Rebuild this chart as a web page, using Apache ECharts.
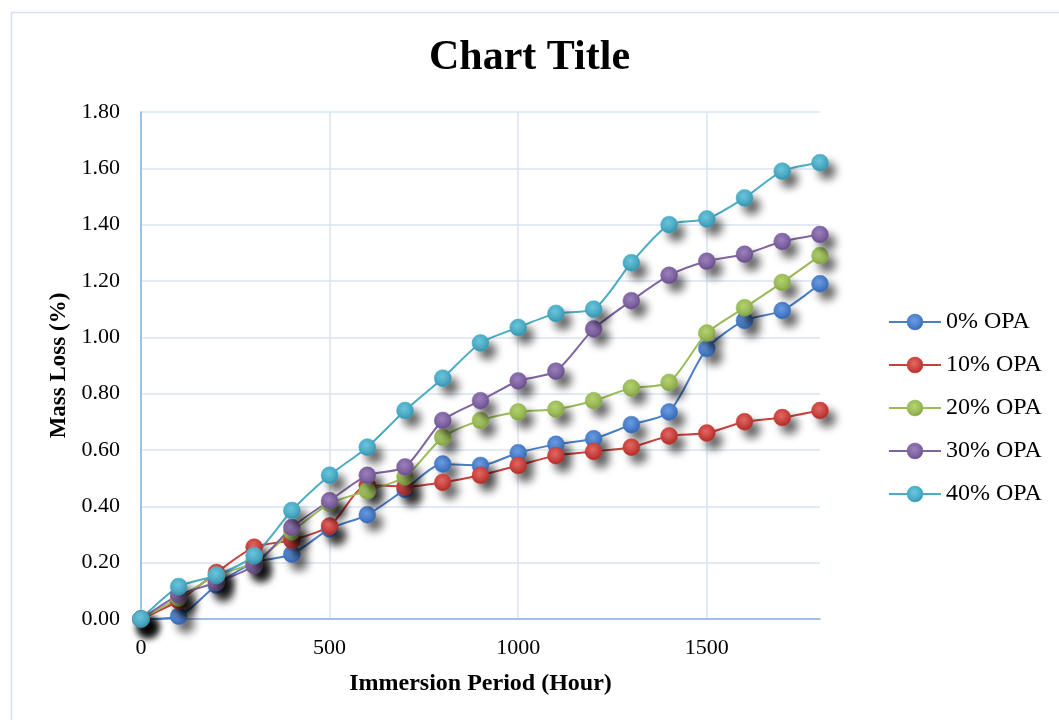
<!DOCTYPE html>
<html>
<head>
<meta charset="utf-8">
<script src="https://cdn.jsdelivr.net/npm/echarts@6/dist/echarts.min.js"></script>
<style>
  html, body { margin: 0; padding: 0; background: #ffffff; }
  #chart { width: 1059px; height: 720px; }
</style>
</head>
<body>
<div id="chart"></div>
<script>
// Immersion period in hours
const hours = [0, 100, 200, 300, 400, 500, 600, 700, 800, 900, 1000, 1100, 1200, 1300, 1400, 1500, 1600, 1700, 1800];

// Mass loss (%) for each OPA content
const opa0  = [0, 0.01, 0.12, 0.20, 0.23, 0.32, 0.37, 0.46, 0.55, 0.545, 0.59, 0.62, 0.64, 0.69, 0.735, 0.96, 1.06, 1.095, 1.19];
const opa10 = [0, 0.065, 0.165, 0.255, 0.28, 0.33, 0.475, 0.47, 0.485, 0.51, 0.545, 0.58, 0.595, 0.61, 0.65, 0.66, 0.70, 0.715, 0.74];
const opa20 = [0, 0.075, 0.155, 0.20, 0.31, 0.41, 0.455, 0.505, 0.645, 0.705, 0.735, 0.745, 0.775, 0.82, 0.84, 1.015, 1.105, 1.195, 1.29];
const opa30 = [0, 0.085, 0.13, 0.19, 0.325, 0.42, 0.51, 0.54, 0.705, 0.775, 0.845, 0.88, 1.03, 1.13, 1.22, 1.27, 1.295, 1.34, 1.365];
const opa40 = [0, 0.115, 0.155, 0.225, 0.385, 0.51, 0.61, 0.74, 0.855, 0.98, 1.035, 1.085, 1.10, 1.265, 1.40, 1.42, 1.495, 1.59, 1.62];

const seriesNames = ['0% OPA', '10% OPA', '20% OPA', '30% OPA', '40% OPA'];
const seriesData = [opa0, opa10, opa20, opa30, opa40];

// line colour, marker highlight, marker edge
const palette = [
  ['#4a7ec9', '#6a9ee6', '#2f63b0'],
  ['#c9403c', '#e46a66', '#a92b28'],
  ['#9bbb59', '#b7d46f', '#7d9d3c'],
  ['#8064a2', '#9d82c0', '#634887'],
  ['#4bacc6', '#6cc7de', '#2f8eaa']
];

const serif = '"Liberation Serif", "Times New Roman", serif';

function beadFill(c) {
  return {
    type: 'radial', x: 0.45, y: 0.4, r: 0.62,
    colorStops: [
      { offset: 0, color: c[1] },
      { offset: 0.65, color: c[0] },
      { offset: 1, color: c[2] }
    ]
  };
}

const series = seriesNames.map((name, i) => ({
  name: name,
  type: 'line',
  data: hours.map((h, k) => [h, seriesData[i][k]]),
  smooth: 0.25,
  symbol: 'circle',
  symbolSize: 17,
  lineStyle: { color: palette[i][0], width: 2 },
  itemStyle: {
    color: beadFill(palette[i]),
    borderColor: palette[i][0],
    borderWidth: 0.5,
    shadowColor: 'rgba(0,0,0,0.6)',
    shadowBlur: 8,
    shadowOffsetX: 7,
    shadowOffsetY: 8
  },
  emphasis: { disabled: true }
}));

const chart = echarts.init(document.getElementById('chart'), null, { renderer: 'canvas' });

chart.setOption({
  backgroundColor: '#ffffff',
  animation: false,
  graphic: [{
    type: 'rect',
    left: 9, top: 10,
    shape: { width: 1100, height: 760 },
    style: { fill: 'none', stroke: '#d5e0f0', lineWidth: 1.5 },
    silent: true, z: -1
  }],
  title: {
    text: 'Chart Title',
    left: 'center',
    top: 32,
    textStyle: { fontFamily: serif, fontSize: 42, fontWeight: 'bold', color: '#000' }
  },
  grid: { left: 141, right: 239, top: 112, bottom: 101, containLabel: false },
  legend: {
    orient: 'vertical',
    left: 883,
    top: 305,
    itemWidth: 52,
    itemHeight: 20,
    itemGap: 19,
    data: seriesNames.map((n, i) => ({
      name: n,
      itemStyle: { color: beadFill(palette[i]), borderColor: palette[i][0], borderWidth: 0.5, shadowBlur: 0, shadowOffsetX: 0, shadowOffsetY: 0 }
    })),
    textStyle: { fontFamily: serif, fontSize: 24, color: '#000', lineHeight: 23 }
  },
  xAxis: {
    type: 'value',
    min: 0, max: 1800, interval: 500,
    name: 'Immersion Period (Hour)',
    nameLocation: 'middle',
    nameGap: 53,
    nameTextStyle: { fontFamily: serif, fontSize: 24, fontWeight: 'bold', color: '#000' },
    axisLine: { show: true, onZero: false, lineStyle: { color: '#8db3e2', width: 1.5 } },
    axisTick: { show: false },
    axisLabel: {
      fontFamily: serif, fontSize: 22, color: '#000', margin: 18,
      showMaxLabel: false,
      formatter: v => String(v)
    },
    splitLine: {
      show: true,
      lineStyle: { color: ['#d9e4f2', '#d9e4f2', '#d9e4f2', '#d9e4f2', 'rgba(0,0,0,0)'], width: 1.5 }
    }
  },
  yAxis: {
    type: 'value',
    min: 0, max: 1.8, interval: 0.2,
    name: 'Mass Loss (%)',
    nameLocation: 'middle',
    nameGap: 70,
    nameRotate: 90,
    nameTextStyle: { fontFamily: serif, fontSize: 23, fontWeight: 'bold', color: '#000' },
    axisLine: { show: true, lineStyle: { color: '#8db3e2', width: 1.5 } },
    axisTick: { show: false },
    axisLabel: {
      fontFamily: serif, fontSize: 22, color: '#000', margin: 21,
      formatter: v => v.toFixed(2)
    },
    splitLine: { show: true, lineStyle: { color: '#d9e4f2', width: 1.5 } }
  },
  series: series
});
</script>
</body>
</html>
